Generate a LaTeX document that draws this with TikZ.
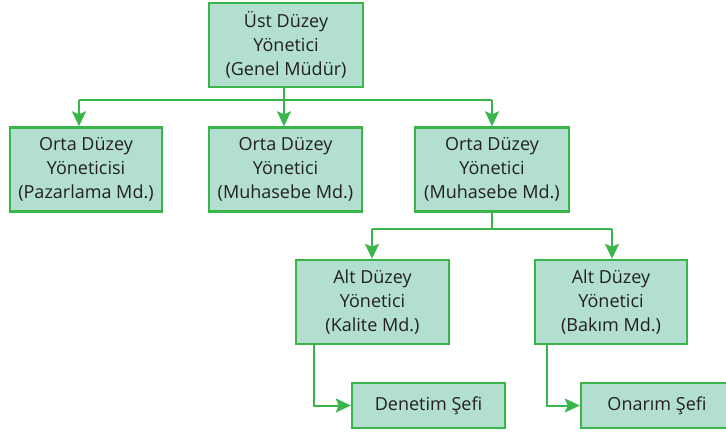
\documentclass[tikz,border=0pt]{standalone}
\usepackage{fontspec}
\setmainfont{Open Sans}
\usetikzlibrary{arrows.meta}
\definecolor{boxfill}{HTML}{B3DFD1}
\definecolor{boxline}{HTML}{3AB54A}
\definecolor{ink}{HTML}{231F20}
\tikzset{
  orgbox/.style={draw=boxline, line width=2.4pt, fill=boxfill, text=ink,
    align=center, inner sep=0pt, minimum width=152pt,
    font=\fontsize{18}{24}\selectfont},
  tallbox/.style={orgbox, minimum height=84pt},
  flatbox/.style={orgbox, minimum height=45pt},
  link/.style={draw=boxline, line width=2pt},
  arr/.style={link, -{Stealth[length=15pt,width=14pt,inset=3pt]}}
}
\begin{document}
\begin{tikzpicture}[x=1pt,y=-1pt]
\useasboundingbox (0,0) rectangle (726,432);
\begin{scope}
\clip (0,0) rectangle (726,432);
% boxes
\node[tallbox, minimum width=154pt] (top) at (286,45) {Üst Düzey\\Yönetici\\(Genel Müdür)};
\node[tallbox] (pz) at (86,169.5) {Orta Düzey\\Yöneticisi\\(Pazarlama Md.)};
\node[tallbox, minimum width=153pt] (mh) at (285.5,169.5) {Orta Düzey\\Yönetici\\(Muhasebe Md.)};
\node[tallbox, minimum width=154pt] (mh2) at (492,169.5) {Orta Düzey\\Yönetici\\(Muhasebe Md.)};
\node[tallbox, minimum width=153pt] (kl) at (372.5,302) {Alt Düzey\\Yönetici\\(Kalite Md.)};
\node[tallbox] (bk) at (611,302) {Alt Düzey\\Yönetici\\(Bakım Md.)};
\node[flatbox, minimum width=153pt] (dn) at (428.5,405.5) {Denetim Şefi};
\node[flatbox] (on) at (657,405.5) {Onarım Şefi};

% bus under the top manager
\coordinate (b1) at (79,100);
\coordinate (b2) at (284,100);
\coordinate (b3) at (492,100);
\draw[link] (top.south -| b2) -- (b2);
\draw[link] (b1) -- (b3);
\draw[arr] (b1) -- (b1 |- pz.north);
\draw[arr] (b2) -- (b2 |- mh.north);
\draw[arr] (b3) -- (b3 |- mh2.north);

% bus under the accounting manager
\coordinate (c1) at (372,229);
\coordinate (c2) at (612,229);
\draw[link] (mh2.south) -- (mh2.south |- c1);
\draw[link] (c1) -- (c2);
\draw[arr] (c1) -- (c1 |- kl.north);
\draw[arr] (c2) -- (c2 |- bk.north);

% chiefs
\coordinate (k1) at (314,0);
\coordinate (k2) at (547,0);
\draw[arr] (k1 |- kl.south) |- (dn.west);
\draw[arr] (k2 |- bk.south) |- (on.west);
\end{scope}
\end{tikzpicture}
\end{document}
